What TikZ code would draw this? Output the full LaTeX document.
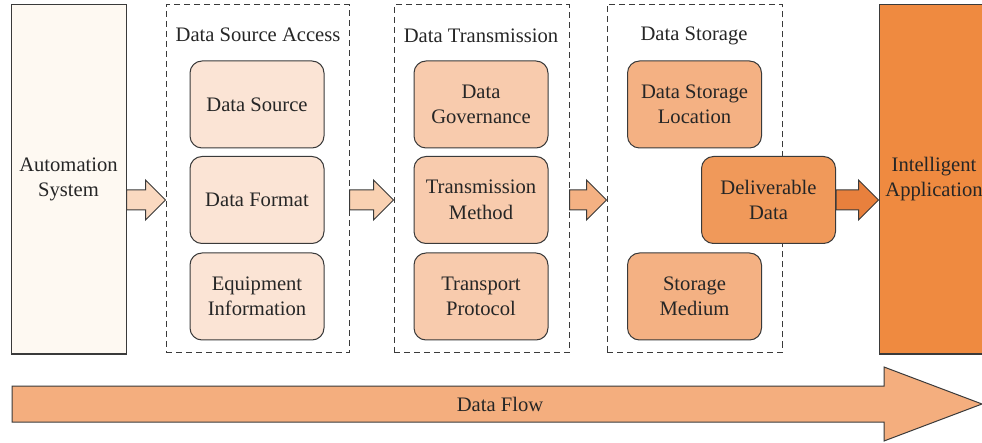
\documentclass[tikz,border=0pt]{standalone}
\usepackage{fontspec}
\setmainfont{Liberation Serif}
\usetikzlibrary{calc}
\definecolor{cream}{HTML}{FEF9F2}
\definecolor{peachA}{HTML}{FBE4D5}
\definecolor{peachB}{HTML}{F8CBAD}
\definecolor{peachC}{HTML}{F4B183}
\definecolor{orangeD}{HTML}{F0995A}
\definecolor{orangeE}{HTML}{EF8A40}
\definecolor{arrA}{HTML}{FAD9C0}
\definecolor{arrB}{HTML}{F9D1B2}
\definecolor{arrC}{HTML}{F4B183}
\definecolor{arrD}{HTML}{E8803D}
\definecolor{flowc}{HTML}{F4AE7E}
\definecolor{edgec}{HTML}{3A3A3A}
\newcommand\blockarr[3]{%
  \draw[barrow,fill=#1] let \p1=(#2), \p2=(#3) in
    (\x1,\y1+10pt) -- (\x2-20pt,\y1+10pt) -- (\x2-20pt,\y1+20pt) -- (\x2,\y1)
    -- (\x2-20pt,\y1-20pt) -- (\x2-20pt,\y1-10pt) -- (\x1,\y1-10pt) -- cycle;}
\begin{document}
\begin{tikzpicture}[x=1pt,y=-1pt,
  txt/.style={font=\fontsize{20.6}{25.5}\selectfont, align=center, text=black!85},
  bigbox/.style={txt, draw=edgec, line width=1pt, minimum height=349pt, inner sep=0pt},
  group/.style={draw=edgec, line width=1pt, dash pattern=on 6pt off 4pt, minimum width=#1, minimum height=348pt, inner sep=0pt},
  item/.style={txt, draw=edgec, line width=1pt, rounded corners=12pt, minimum width=134pt, minimum height=87pt, inner sep=0pt},
  title/.style={txt},
  barrow/.style={draw=edgec, line width=1pt, line join=miter}]
\useasboundingbox (0,0) rectangle (982,443);
% big side boxes
\node[bigbox, fill=cream, minimum width=115pt] (auto) at (68.5,179.5) {Automation\\System};
\node[bigbox, fill=orangeE, minimum width=120pt, text width=120pt] (appbox) at (939,179.5) {};
\node[txt] (app) at (934,179) {Intelligent\\Application};
% dashed groups
\node[group=183pt] (dsa) at (257.5,179) {};
\node[group=175pt] (dtr) at (481.5,179) {};
\node[group=175pt] (dst) at (694.5,178.5) {};
\node[title] (t1) at (258,35) {Data Source Access};
\node[title] (t2) at (481,36) {Data Transmission};
\node[title] (t3) at (694,36) {Data Storage};
% column 1
\node[item, fill=peachA] (ds) at (257,104.5) {Data Source};
\node[item, fill=peachA] (df) at (257,200) {Data Format};
\node[item, fill=peachA] (ei) at (257,296.5) {Equipment\\Information};
% column 2
\node[item, fill=peachB] (dg) at (481,104.5) {Data\\Governance};
\node[item, fill=peachB] (tm) at (481,200) {Transmission\\Method};
\node[item, fill=peachB] (tp) at (481,296.5) {Transport\\Protocol};
% column 3
\node[item, fill=peachC] (dsl) at (694.5,104.5) {Data Storage\\Location};
\node[item, fill=peachC] (sm) at (694.5,296.5) {Storage\\Medium};
\node[item, fill=orangeD] (dd) at (768.5,200) {Deliverable\\Data};
% block arrows
\blockarr{arrA}{auto.east |- df.center}{dsa.west |- df.center}
\blockarr{arrB}{dsa.east |- df.center}{dtr.west |- df.center}
\blockarr{arrC}{dtr.east |- df.center}{dst.west |- df.center}
\blockarr{arrD}{dd.east}{appbox.west |- dd.east}
% data flow arrow
\draw[barrow, fill=flowc] (12,386) -- (884,386) -- (884,367) -- (982,404) -- (884,441) -- (884,422) -- (12,422) -- cycle;
\node[txt] (flow) at (500,404) {Data Flow};
\end{tikzpicture}
\end{document}
